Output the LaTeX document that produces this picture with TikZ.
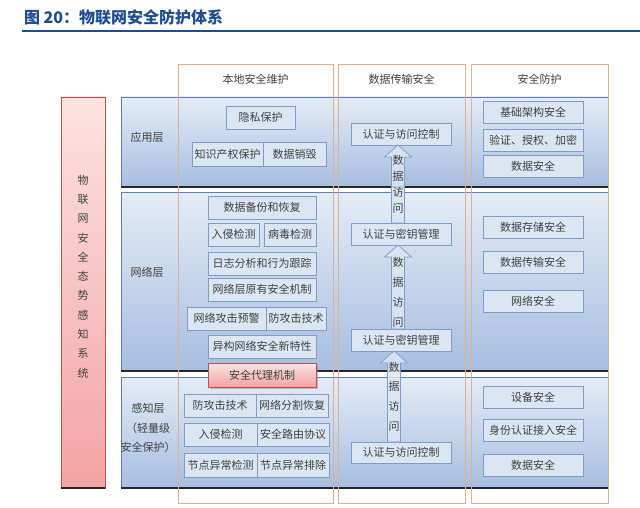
\documentclass[tikz,border=0pt]{standalone}
\usepackage{fontspec}
\setmainfont{Noto Sans CJK SC}
\usetikzlibrary{calc}
\usetikzlibrary{shadows}
\definecolor{txt}{HTML}{404040}
\definecolor{itemfill}{HTML}{DCE6F2}
\definecolor{itemline}{HTML}{7F9CC6}
\definecolor{layertop}{HTML}{E4ECF7}
\definecolor{layerbot}{HTML}{A6BEE0}
\definecolor{layerline}{HTML}{5B7FB5}
\definecolor{orangeline}{HTML}{E8AE8A}
\definecolor{redline}{HTML}{C0504D}
\definecolor{redtop}{HTML}{FCE2E2}
\definecolor{redbot}{HTML}{F3A3A3}
\definecolor{titleblue}{HTML}{1F4E8C}
% hollow up arrow from the top of one box to the bottom of another
\newcommand{\dataarrow}[3]{%
  \draw[dataflow] let \p1=($(#1.north)+(#3,0)$), \p2=(#2.south) in
    (\x1-6.5pt,\y1) -- (\x1-6.5pt,\y2-12pt) -- (\x1-13.5pt,\y2-12pt) -- (\x1,\y2)
    -- (\x1+13.5pt,\y2-12pt) -- (\x1+6.5pt,\y2-12pt) -- (\x1+6.5pt,\y1) -- cycle;}

\begin{document}
\begin{tikzpicture}[
  x=1pt,y=-1pt,
  every node/.style={text=txt,font=\fontsize{11}{13}\selectfont,inner sep=1pt,outer sep=0pt},
  itembox/.style={draw=itemline,fill=itemfill,minimum height=23,minimum width=#1},
  itembox/.default=100,
  layerbox/.style={draw=layerline,top color=layertop,bottom color=layerbot,minimum width=487,minimum height=#1},
  sidebox/.style={draw=redline,top color=redtop,bottom color=redbot,minimum width=44,minimum height=391},
  redbox/.style={draw=redline,top color=redtop,bottom color=redbot,minimum width=108,minimum height=24,
    drop shadow={shadow xshift=1.5pt,shadow yshift=-1.5pt,opacity=0.45}},
  colbox/.style={draw=orangeline,line width=0.8pt,minimum height=439,minimum width=#1},
  botline/.style={line width=2.4pt,draw=black!85},
  dataflow/.style={draw=itemline,fill=itemfill,fill opacity=0.85,line width=0.7pt}]
  \useasboundingbox (0,0) rectangle (640,508);
  \fill[white] (0,0) rectangle (640,508);
  % title and rule below it
  \node[anchor=west,text=titleblue,font=\fontsize{16}{18}\selectfont\bfseries] (title) at (23,17) {图 20：物联网安全防护体系};
  \draw[titleblue,line width=2pt] (22,31) -- (640,31);
  % side box
  \node[sidebox] (side) at (83,292.5) {};
  \draw[botline] (side.south west) -- (side.south east);
  \node[align=center,font=\fontsize{11}{19.3}\selectfont] (sidetxt) at (83,276.5) {物\\联\\网\\安\\全\\态\\势\\感\\知\\系\\统};
  % layer boxes
  \node[layerbox=90] (app) at (364.5,142) {};
  \node[layerbox=179] (net) at (364.5,281.5) {};
  \node[layerbox=111] (per) at (364.5,432.5) {};
  \foreach \l in {app,net,per}
    \draw[botline] (\l.south west) -- (\l.south east);
  \node (applbl) at (147,137) {应用层};
  \node (netlbl) at (147,272) {网络层};
  \node[align=center,font=\fontsize{11}{19.5}\selectfont] (perlbl) at (148,428) {感知层\\（轻量级\\安全保护）};
  % column boxes and headers
  \node[colbox=155] (loc) at (255.5,283.5) {};
  \node[colbox=127] (trn) at (401.5,283.5) {};
  \node[colbox=137] (prt) at (539.5,283.5) {};
  \node (lochdr) at (255.5,79) {本地安全维护};
  \node (trnhdr) at (401.5,79) {数据传输安全};
  \node (prthdr) at (539.5,79) {安全防护};
  % local: application layer
  \node[itembox=69] (pr) at (260.5,117.5) {隐私保护};
  \node[itembox=71,minimum height=24] (ip) at (227.5,154) {知识产权保护};
  \node[itembox=63,minimum height=24] (dd) at (294.5,154) {数据销毁};
  % local: network layer
  \node[itembox=108] (bk) at (262,207.5) {数据备份和恢复};
  \node[itembox=51] (id1) at (233.5,234.5) {入侵检测};
  \node[itembox=52] (vd) at (290,234.5) {病毒检测};
  \node[itembox=108] (lg) at (262,263.5) {日志分析和行为跟踪};
  \node[itembox=108] (nm) at (262,289.5) {网络层原有安全机制};
  \node[itembox=79] (aw) at (226.5,318.5) {网络攻击预警};
  \node[itembox=60] (ad1) at (296,318.5) {防攻击技术};
  \node[itembox=108] (hn) at (262,346.5) {异构网络安全新特性};
  \node[redbox] (ag) at (262,375) {安全代理机制};
  % local: perception layer
  \node[itembox=72] (ad2) at (220,405.5) {防攻击技术};
  \node[itembox=72] (ns) at (292,405.5) {网络分割恢复};
  \node[itembox=73] (id2) at (220.5,434.5) {入侵检测};
  \node[itembox=72] (sr) at (293,434.5) {安全路由协议};
  \node[itembox=73,minimum height=24] (nd) at (220.5,465) {节点异常检测};
  \node[itembox=72,minimum height=24] (ne) at (293,465) {节点异常排除};
  % transfer column
  \node[itembox=100,minimum height=22] (ac1) at (401,134) {认证与访问控制};
  \node[itembox=100,minimum height=22] (km1) at (401,234) {认证与密钥管理};
  \node[itembox=100,minimum height=22] (km2) at (401,340) {认证与密钥管理};
  \node[itembox=100,minimum height=21] (ac2) at (401,452.5) {认证与访问控制};
  \dataarrow{km1}{ac1}{-3}
  \dataarrow{km2}{km1}{-3}
  \dataarrow{ac2}{km2}{-7}
  \node[align=center,font=\fontsize{11}{16}\selectfont] (dt1) at (398,184) {数\\据\\访\\问};
  \node[align=center,font=\fontsize{11}{20}\selectfont] (dt2) at (398,292) {数\\据\\访\\问};
  \node[align=center,font=\fontsize{11}{19.7}\selectfont] (dt3) at (394,396.5) {数\\据\\访\\问};
  % protection column
  \foreach \y/\n/\t in {112.5/ba/基础架构安全,140/va/验证、授权、加密,166.5/ds1/数据安全,
                         227.5/ss/数据存储安全,262.5/ts/数据传输安全,301/nws/网络安全,
                         397.5/es/设备安全,430/ia/身份认证接入安全,465/ds2/数据安全}
    \node[itembox=100,minimum height=22] (\n) at (533,\y) {\t};
\end{tikzpicture}
\end{document}
